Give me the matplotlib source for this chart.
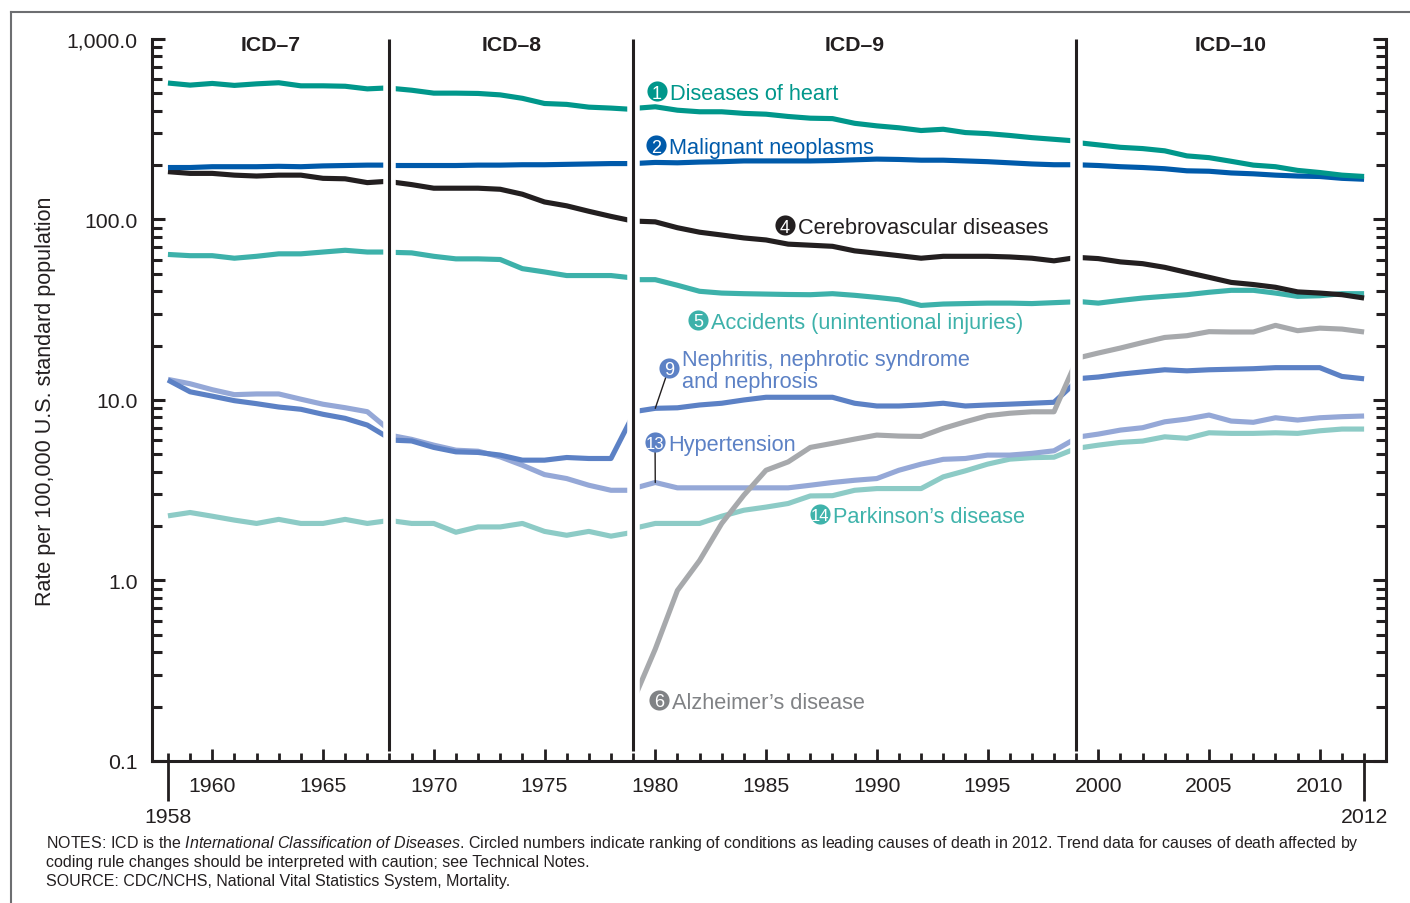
import numpy as np
import matplotlib
matplotlib.use("Agg")
import matplotlib.pyplot as plt
import matplotlib.patheffects as pe
from matplotlib.lines import Line2D
from matplotlib.ticker import FixedLocator, LogLocator, MultipleLocator, FuncFormatter, NullFormatter

plt.rcParams['font.family'] = ['Liberation Sans', 'DejaVu Sans']
plt.rcParams['mathtext.fontset'] = 'custom'
plt.rcParams['mathtext.rm'] = 'Liberation Sans'
plt.rcParams['mathtext.it'] = 'Liberation Sans:italic'

INK = '#231f20'

# ICD revision periods; neighbouring periods share the break year
icd_names = ["ICD–7", "ICD–8", "ICD–9", "ICD–10"]
icd_breaks = [1968, 1979, 1999]
period_years = [list(range(1958, 1969)), list(range(1968, 1980)),
                list(range(1979, 2000)), list(range(1999, 2013))]

# age-adjusted death rates per 100,000, one list per ICD period
heart = [
    [570, 555, 567, 553, 564, 572, 550, 550, 547, 529, 536],
    [534, 520, 501, 501, 499, 490, 469, 439, 434, 419, 414, 407],
    [412, 421, 403, 395, 395, 387, 383, 372, 364, 362, 341, 330, 322, 311, 316,
     303, 299, 292, 284, 278, 272],
    [267, 259, 251, 247, 240, 225, 220, 210, 200, 196, 187, 182, 176, 173],
]
cancer = [
    [194, 194, 196, 196, 196, 197, 196, 198, 199, 200, 200],
    [199, 199, 199, 199, 200, 200, 201, 201, 202, 203, 204, 204],
    [204, 207, 206, 208, 209, 211, 211, 211, 211, 212, 214, 216, 215, 213, 213,
     211, 209, 206, 203, 201, 201],
    [201, 199, 196, 194, 191, 186, 185, 181, 179, 176, 174, 173, 169, 167],
]
stroke = [
    [184, 180, 180, 176, 174, 176, 176, 169, 168, 160, 163],
    [162, 156, 149, 149, 149, 147, 138, 125, 119, 111, 104, 98],
    [98, 97, 90, 85, 82, 79, 77, 73, 72, 71, 67, 65, 63, 61, 62.5, 62.5, 62.5,
     62, 61, 59, 61.5],
    [61.7, 60.7, 58.2, 56.9, 54.3, 50.9, 47.8, 44.8, 43.6, 42.1, 39.7, 39.1,
     38.3, 36.7],
]
accidents = [
    [64, 63, 63, 61, 62.5, 64.5, 64.5, 66, 67.5, 66, 66],
    [65.8, 65.3, 62.5, 60.5, 60.5, 60, 53.4, 51.2, 48.9, 48.9, 48.9, 47.4],
    [46.4, 46.4, 43.2, 40, 39.1, 38.8, 38.6, 38.4, 38.3, 38.8, 38, 37, 35.9,
     33.4, 34, 34.2, 34.4, 34.4, 34.2, 34.6, 35],
    [35.2, 34.4, 35.6, 36.7, 37.5, 38.3, 39.5, 40.5, 40.5, 39.1, 37.5, 37.8,
     38.8, 38.8],
]
alzheimer = [
    [],
    [],
    [0.215, 0.417, 0.88, 1.29, 2.07, 2.97, 4.08, 4.54, 5.46, 5.75, 6.07, 6.39,
     6.31, 6.28, 6.96, 7.57, 8.18, 8.44, 8.6, 8.6, 16.3],
    [17.0, 18.2, 19.4, 20.8, 22.2, 22.7, 23.9, 23.8, 23.8, 25.9, 24.2, 25.0,
     24.7, 23.8],
]
nephritis = [
    [12.9, 11.1, 10.5, 9.91, 9.54, 9.14, 8.88, 8.33, 7.91, 7.26, 6.13],
    [6.0, 5.93, 5.46, 5.16, 5.12, 4.95, 4.64, 4.64, 4.80, 4.74, 4.74, 8.25],
    [8.6, 8.99, 9.05, 9.38, 9.59, 10.0, 10.35, 10.35, 10.35, 10.35, 9.59, 9.26,
     9.26, 9.38, 9.59, 9.26, 9.38, 9.48, 9.59, 9.71, 12.6],
    [13.1, 13.4, 13.9, 14.3, 14.7, 14.5, 14.7, 14.8, 14.9, 15.1, 15.1, 15.1,
     13.5, 13.1],
]
hypertension = [
    [13.0, 12.3, 11.4, 10.7, 10.8, 10.8, 10.1, 9.47, 9.06, 8.61, 6.81],
    [6.39, 6.05, 5.62, 5.27, 5.2, 4.84, 4.35, 3.86, 3.67, 3.37, 3.16, 3.16],
    [3.23, 3.49, 3.26, 3.26, 3.26, 3.26, 3.26, 3.26, 3.37, 3.49, 3.59, 3.67,
     4.08, 4.41, 4.69, 4.74, 4.95, 4.95, 5.06, 5.23, 6.13],
    [6.21, 6.47, 6.81, 7.02, 7.57, 7.84, 8.25, 7.64, 7.52, 7.97, 7.74, 7.97,
     8.08, 8.15],
]
parkinson = [
    [2.28, 2.38, 2.27, 2.16, 2.07, 2.18, 2.07, 2.07, 2.18, 2.07, 2.15],
    [2.15, 2.07, 2.07, 1.85, 1.98, 1.98, 2.07, 1.87, 1.78, 1.87, 1.76, 1.85],
    [1.94, 2.07, 2.07, 2.07, 2.27, 2.45, 2.55, 2.67, 2.94, 2.95, 3.16, 3.23,
     3.23, 3.23, 3.75, 4.05, 4.41, 4.70, 4.79, 4.82, 5.39],
    [5.39, 5.62, 5.82, 5.92, 6.25, 6.13, 6.58, 6.53, 6.53, 6.58, 6.53, 6.75,
     6.9, 6.9],
]

c_heart = '#00978b'
c_cancer = '#005aaa'
c_accid = '#3db1aa'
c_alz = '#a7a9ac'
c_neph = '#5c81c5'
c_hyp = '#95a8d7'
c_park = '#8dcbc6'

series = [
    (parkinson, c_park),
    (hypertension, c_hyp),
    (nephritis, c_neph),
    (alzheimer, c_alz),
    (accidents, c_accid),
    (stroke, INK),
    (cancer, c_cancer),
    (heart, c_heart),
]

fig = plt.figure(figsize=(14.1, 9.04), dpi=100)
ax = fig.add_axes([0.1078, 0.1571, 0.8752, 0.7987])
ax.set_yscale('log')
ax.set_xlim(1957.28, 2012.99)
ax.set_ylim(0.1, 1000)

for data, col in series:
    for yrs, vals in zip(period_years, data):
        if vals:
            ax.plot(yrs, vals, color=col, lw=3.7, solid_joinstyle='round',
                    solid_capstyle='butt', zorder=3)

# ICD break lines with a white halo that cuts the series
for b in icd_breaks:
    ax.axvline(b, ymin=0.014, ymax=1, color=INK, lw=2.2, solid_capstyle='butt',
               zorder=5, path_effects=[pe.Stroke(linewidth=9, foreground='white'),
                                       pe.Normal()])

bounds = [ax.get_xlim()[0]] + icd_breaks + [ax.get_xlim()[1]]
for i, name in enumerate(icd_names):
    mid = (bounds[i] + bounds[i + 1]) / 2
    ax.text(mid, 0.993, name, transform=ax.get_xaxis_transform(), ha='center',
            va='center', fontsize=15.3, fontweight='bold', color=INK)

# series labels: circled rank + name
labels = [
    ('1', 'Diseases of heart', 1980.08, 514, c_heart, c_heart),
    ('2', 'Malignant neoplasms', 1980.03, 258, c_cancer, c_cancer),
    ('4', 'Cerebrovascular diseases', 1985.86, 92.6, INK, INK),
    ('5', 'Accidents (unintentional injuries)', 1981.93, 27.8, c_accid, c_accid),
    ('9', 'Nephritis, nephrotic syndrome\nand nephrosis', 1980.62, 15.06, c_neph, c_neph),
    ('13', 'Hypertension', 1979.99, 5.84, c_neph, c_neph),
    ('14', 'Parkinson’s disease', 1987.44, 2.33, '#3fb3ab', '#3fb3ab'),
    ('6', 'Alzheimer’s disease', 1980.17, 0.218, '#808285', '#808285'),
]
for num, name, lx, ly, ccol, tcol in labels:
    ax.plot([lx], [ly], 'o', ms=14.5, color=ccol, mec='none', zorder=7)
    ax.text(lx, ly, num, ha='center', va='center_baseline', color='white',
            fontsize=13 if len(num) == 1 else 12, zorder=8)
    ax.annotate(name, (lx, ly), xytext=(9.3, 0), textcoords='offset points',
                ha='left', va='center_baseline', color=tcol, fontsize=15.7,
                linespacing=1.05, zorder=8)

# leader lines to the 1980 values
ax.annotate('', xy=(1980, nephritis[2][1]), xytext=(1980.62, 15.06),
            arrowprops=dict(arrowstyle='-', color=INK, lw=1, shrinkA=7, shrinkB=0),
            zorder=6)
ax.annotate('', xy=(1980, hypertension[2][1]), xytext=(1979.99, 5.84),
            arrowprops=dict(arrowstyle='-', color=INK, lw=1, shrinkA=7, shrinkB=0),
            zorder=6)

# axes styling
for side in ['left', 'right', 'bottom']:
    ax.spines[side].set_linewidth(2.2)
    ax.spines[side].set_color(INK)
ax.spines['top'].set_visible(False)

ax.yaxis.set_major_locator(FixedLocator([0.1, 1, 10, 100, 1000]))
ax.yaxis.set_major_formatter(FuncFormatter(lambda v, p: f"{v:,.1f}"))
ax.yaxis.set_minor_locator(LogLocator(base=10, subs=np.arange(2, 10), numticks=30))
ax.yaxis.set_minor_formatter(NullFormatter())
ax.tick_params(axis='y', which='major', direction='in', length=9.5, width=2.2,
               left=True, right=True, labelsize=15.3, pad=10.5, colors=INK)
ax.tick_params(axis='y', which='minor', direction='in', length=7, width=2.2,
               left=True, right=True, colors=INK)

ax.xaxis.set_major_locator(FixedLocator(list(range(1960, 2011, 5))))
ax.xaxis.set_minor_locator(MultipleLocator(1))
ax.tick_params(axis='x', which='major', direction='in', length=8.5, width=2,
               labelsize=15.3, pad=10.5, colors=INK)
ax.tick_params(axis='x', which='minor', direction='in', length=5.5, width=2,
               colors=INK)

sec = ax.secondary_xaxis('bottom')
sec.set_xticks([1958, 2012])
sec.tick_params(direction='out', length=29, width=2, pad=4, labelsize=15.3,
                colors=INK)
sec.spines['bottom'].set_visible(False)

ax.set_ylabel('Rate per 100,000 U.S. standard population', fontsize=15.5, color=INK)
ax.yaxis.set_label_coords(-0.078, 0.5)

# notes
notes = [
    r"NOTES: ICD is the $\mathit{International\ Classification\ of\ Diseases}$. "
    "Circled numbers indicate ranking of conditions as leading causes of death in 2012. "
    "Trend data for causes of death affected by",
    "coding rule changes should be interpreted with caution; see Technical Notes.",
    "SOURCE: CDC/NCHS, National Vital Statistics System, Mortality.",
]
for i, line in enumerate(notes):
    fig.text(46 / 1410, 1 - (848.5 + 19 * i) / 904, line, fontsize=11.5,
             color=INK, va='baseline', ha='left')

# outer frame (top and left edges)
fig.add_artist(Line2D([11 / 1410, 1], [1 - 13 / 904] * 2, transform=fig.transFigure,
                      color='#6d6e71', lw=1.5))
fig.add_artist(Line2D([11 / 1410] * 2, [0, 1 - 13 / 904], transform=fig.transFigure,
                      color='#6d6e71', lw=1.5))

fig.savefig('out.png', dpi=100)
